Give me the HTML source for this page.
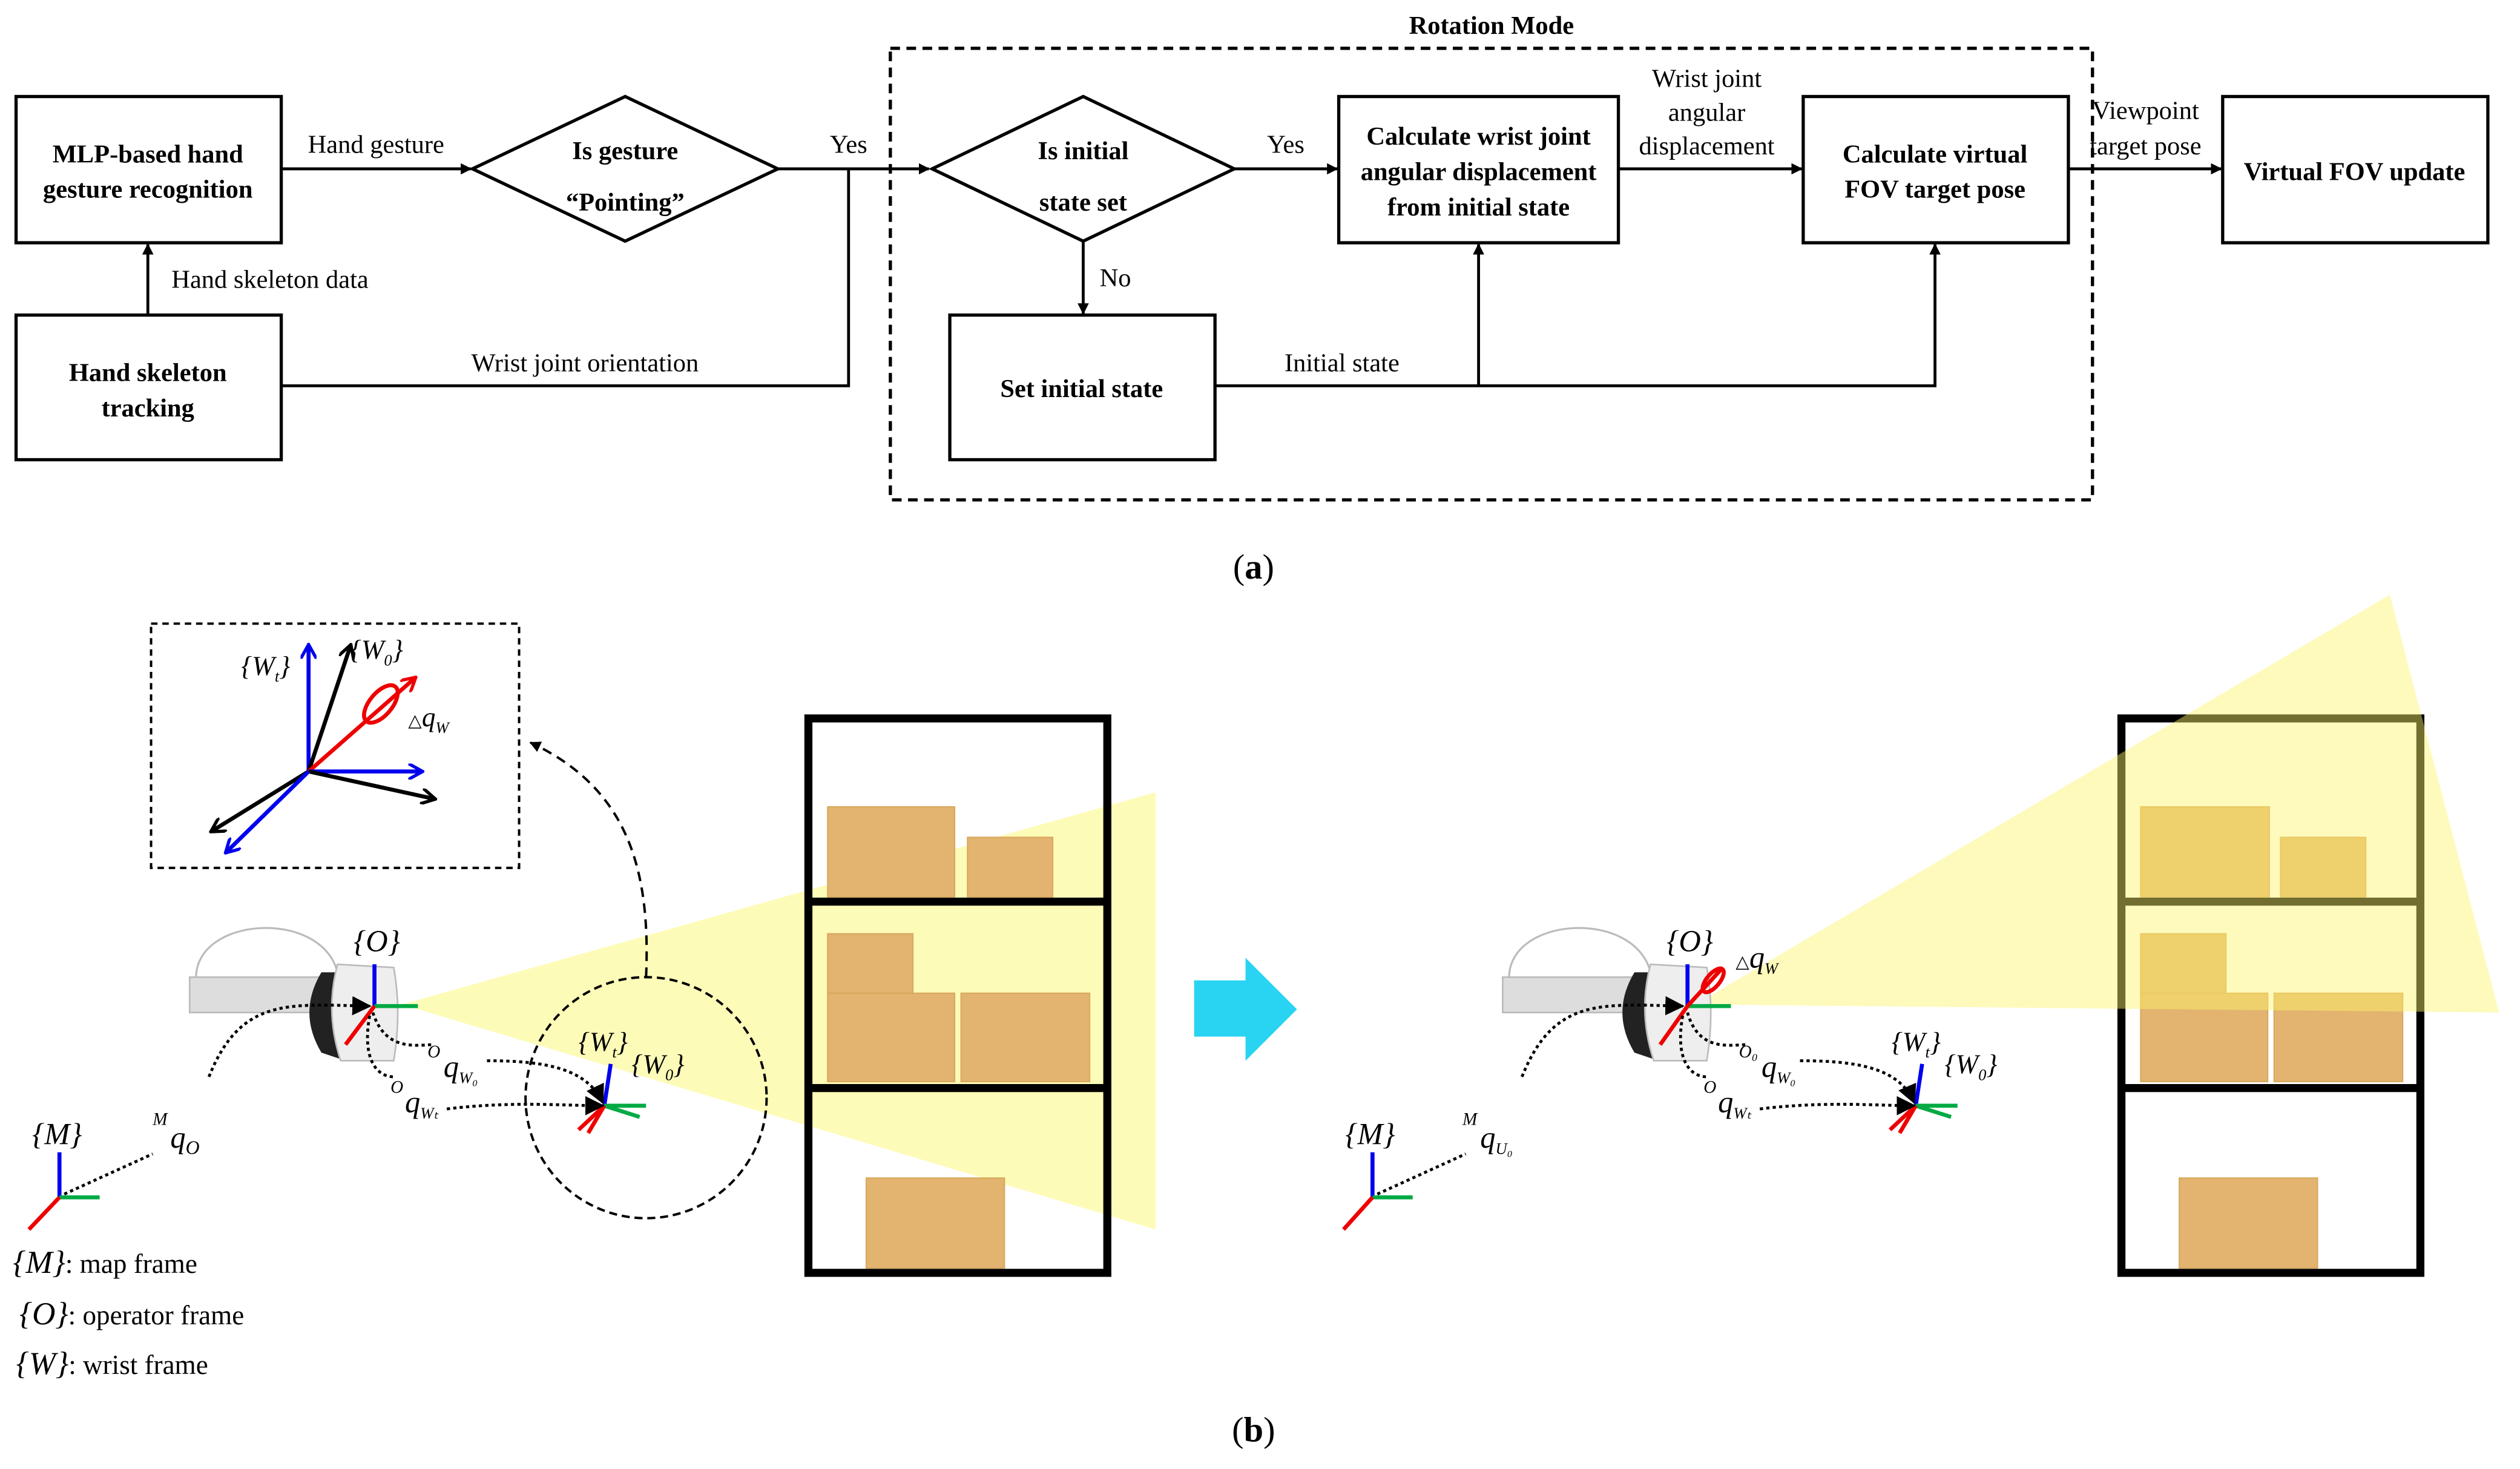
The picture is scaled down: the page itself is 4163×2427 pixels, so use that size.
<!DOCTYPE html>
<html><head><meta charset="utf-8"><style>html,body{margin:0;padding:0;background:#fff}svg{display:block}svg text{font-family:"Liberation Serif","Times New Roman",serif}</style></head>
<body>
<svg width="4163" height="2427" viewBox="0 0 1568 914" xmlns="http://www.w3.org/2000/svg" style="font-family:'Liberation Serif',serif">
<defs>
<marker id="a" viewBox="0 0 10 10" refX="9" refY="5" markerWidth="7" markerHeight="7" orient="auto-start-reverse" markerUnits="userSpaceOnUse"><path d="M0,0L10,5L0,10z" fill="#000"/></marker>
<marker id="b" viewBox="0 0 10 10" refX="9" refY="5" markerWidth="12" markerHeight="12" orient="auto" markerUnits="userSpaceOnUse"><path d="M0,0L10,5L0,10z" fill="#000"/></marker>
<marker id="ob" viewBox="0 0 10 10" refX="8" refY="5" markerWidth="10" markerHeight="10" orient="auto" markerUnits="userSpaceOnUse"><path d="M0,0L9,5L0,10" fill="none" stroke="#000" stroke-width="2"/></marker>
<marker id="obl" viewBox="0 0 10 10" refX="8" refY="5" markerWidth="10" markerHeight="10" orient="auto" markerUnits="userSpaceOnUse"><path d="M0,0L9,5L0,10" fill="none" stroke="#0000ee" stroke-width="2"/></marker>
<marker id="orr" viewBox="0 0 10 10" refX="8" refY="5" markerWidth="10" markerHeight="10" orient="auto" markerUnits="userSpaceOnUse"><path d="M0,0L9,5L0,10" fill="none" stroke="#e00" stroke-width="2"/></marker>
</defs>
<g fill="none" stroke="#000" stroke-width="2">
<rect x="10" y="60" width="165" height="91"/>
<rect x="10" y="196" width="165" height="90"/>
<polygon points="294,105 389,60 484,105 389,150"/>
<rect x="554" y="30" width="748" height="281" stroke-dasharray="6,4"/>
<polygon points="580,105 674,60 768,105 674,150"/>
<rect x="833" y="60" width="174" height="91"/>
<rect x="1122" y="60" width="165" height="91"/>
<rect x="1383" y="60" width="165" height="91"/>
<rect x="591" y="196" width="165" height="90"/>
<g stroke-width="1.8">
<line x1="175" y1="105" x2="293" y2="105" marker-end="url(#a)"/>
<line x1="484" y1="105" x2="578" y2="105" marker-end="url(#a)"/>
<polyline points="528,105 528,240 175,240"/>
<line x1="92" y1="196" x2="92" y2="152" marker-end="url(#a)"/>
<line x1="768" y1="105" x2="832" y2="105" marker-end="url(#a)"/>
<line x1="674" y1="150" x2="674" y2="195" marker-end="url(#a)"/>
<line x1="1007" y1="105" x2="1121" y2="105" marker-end="url(#a)"/>
<line x1="1287" y1="105" x2="1382" y2="105" marker-end="url(#a)"/>
<polyline points="756,240 1204,240 1204,152" marker-end="url(#a)"/>
<line x1="920" y1="240" x2="920" y2="152" marker-end="url(#a)"/>
</g></g>
<g font-size="16" text-anchor="middle" font-weight="bold">
<text x="92" y="101">MLP-based hand</text><text x="92" y="123">gesture recognition</text>
<text x="92" y="237">Hand skeleton</text><text x="92" y="259">tracking</text>
<text x="389" y="99">Is gesture</text><text x="389" y="131">“Pointing”</text>
<text x="674" y="99">Is initial</text><text x="674" y="131">state set</text>
<text x="920" y="90">Calculate wrist joint</text><text x="920" y="112">angular displacement</text><text x="920" y="134">from initial state</text>
<text x="1204" y="101">Calculate virtual</text><text x="1204" y="123">FOV target pose</text>
<text x="1465" y="112">Virtual FOV update</text>
<text x="673" y="247">Set initial state</text>
<text x="928" y="21">Rotation Mode</text>
</g>
<g font-size="16" text-anchor="middle">
<text x="234" y="95">Hand gesture</text>
<text x="528" y="95">Yes</text>
<text x="168" y="179">Hand skeleton data</text>
<text x="364" y="231">Wrist joint orientation</text>
<text x="800" y="95">Yes</text>
<text x="694" y="178">No</text>
<text x="1062" y="54">Wrist joint</text><text x="1062" y="75">angular</text><text x="1062" y="96">displacement</text>
<text x="1335" y="74">Viewpoint</text><text x="1335" y="96">target pose</text>
<text x="835" y="231">Initial state</text>
<text x="780" y="360" font-size="22">(<tspan font-weight="bold">a</tspan>)</text>
<text x="780" y="897" font-size="22">(<tspan font-weight="bold">b</tspan>)</text>
</g>

<!-- LEFT PANEL -->
<polygon points="250,625 719,493 719,765" fill="#fdfbb8"/>
<g fill="#e2b46f" stroke="#d9a85e" stroke-width="0.8">
<rect x="515" y="502" width="79" height="56"/><rect x="602" y="521" width="53" height="37"/>
<rect x="515" y="581" width="53" height="37"/><rect x="515" y="618" width="79" height="55"/><rect x="598" y="618" width="80" height="55"/>
<rect x="539" y="733" width="86" height="56"/>
</g>
<g fill="none" stroke="#000" stroke-width="5">
<rect x="503" y="447" width="186" height="345"/><line x1="503" y1="561" x2="689" y2="561"/><line x1="503" y1="677" x2="689" y2="677"/>
</g>
<rect x="94" y="388" width="229" height="152" fill="none" stroke="#000" stroke-width="1.5" stroke-dasharray="4,3"/>
<g stroke-width="2.5">
<line x1="192" y1="480" x2="192" y2="402" stroke="#0000ee" marker-end="url(#obl)"/>
<line x1="192" y1="480" x2="218" y2="402" stroke="#000" marker-end="url(#ob)"/>
<line x1="192" y1="480" x2="258" y2="422" stroke="#e00" marker-end="url(#orr)"/>
<line x1="192" y1="480" x2="262" y2="480" stroke="#0000ee" marker-end="url(#obl)"/>
<line x1="192" y1="480" x2="270" y2="497" stroke="#000" marker-end="url(#ob)"/>
<line x1="192" y1="480" x2="132" y2="517" stroke="#000" marker-end="url(#ob)"/>
<line x1="192" y1="480" x2="141" y2="530" stroke="#0000ee" marker-end="url(#obl)"/>
<ellipse cx="237" cy="438" rx="7" ry="14" fill="none" stroke="#e00" transform="rotate(40 237 438)"/>
</g>
<g font-style="italic" font-size="17">
<text x="150" y="420">{W<tspan font-size="10" dy="4">t</tspan><tspan dy="-4">}</tspan></text>
<text x="218" y="410">{W<tspan font-size="10" dy="4">0</tspan><tspan dy="-4">}</tspan></text>
<text x="254" y="452"><tspan font-style="normal" font-size="11">△</tspan>q<tspan font-size="10" dy="4">W</tspan></text>
</g>
<path d="M402,608 C405,540 390,490 330,462" fill="none" stroke="#000" stroke-width="1.5" stroke-dasharray="6,4" marker-end="url(#a)"/>
<circle cx="402" cy="683" r="75" fill="none" stroke="#000" stroke-width="1.5" stroke-dasharray="5,3"/>
<g id="hs">
<path d="M122,610 C120,570 200,565 210,605" fill="none" stroke="#bbb" stroke-width="1.2"/>
<rect x="118" y="608" width="95" height="22" fill="#ddd" stroke="#bbb"/>
<path d="M200,605 Q185,630 200,655 L215,660 L215,605z" fill="#222"/>
<path d="M210,600 L245,602 Q250,630 245,660 L212,660 Q202,630 210,600z" fill="#eee" stroke="#bbb"/>
</g>
<g stroke-width="2.5">
<line x1="233" y1="626" x2="233" y2="600" stroke="#0000ee"/><line x1="233" y1="626" x2="260" y2="626" stroke="#00aa44"/><line x1="233" y1="626" x2="215" y2="650" stroke="#e00"/>
<line x1="37" y1="745" x2="37" y2="717" stroke="#0000ee"/><line x1="37" y1="745" x2="62" y2="745" stroke="#00aa44"/><line x1="37" y1="745" x2="18" y2="765" stroke="#e00"/>
<line x1="376" y1="688" x2="380" y2="662" stroke="#0000ee"/><line x1="376" y1="688" x2="402" y2="688" stroke="#00aa44"/><line x1="376" y1="688" x2="398" y2="695" stroke="#00aa44"/><line x1="376" y1="688" x2="360" y2="703" stroke="#e00"/><line x1="376" y1="688" x2="366" y2="705" stroke="#e00"/>
</g>
<g fill="none" stroke="#000" stroke-width="1.8" stroke-dasharray="2,2">
<path d="M40,743 L95,718"/>
<path d="M130,670 C150,620 180,625 230,626" marker-end="url(#b)"/>
<path d="M232,630 C240,655 260,650 270,650"/>
<path d="M303,660 C340,660 365,665 375,686" marker-end="url(#b)"/>
<path d="M230,632 C225,660 235,670 245,670"/>
<path d="M278,690 C320,685 350,688 375,688" marker-end="url(#b)"/>
</g>
<g font-style="italic" font-size="19">
<text x="220" y="592">{O}</text>
<text x="20" y="712">{M}</text>
<text x="95" y="700" font-size="11">M</text><text x="106" y="714">q<tspan font-size="12" dy="4">O</tspan></text>
<text x="266" y="658" font-size="11">O</text><text x="276" y="670">q<tspan font-size="10" dy="4">W₀</tspan></text>
<text x="243" y="680" font-size="11">O</text><text x="252" y="692">q<tspan font-size="10" dy="4">Wₜ</tspan></text>
<text x="360" y="654" font-size="17">{W<tspan font-size="10" dy="4">t</tspan><tspan dy="-4">}</tspan></text>
<text x="393" y="668" font-size="17">{W<tspan font-size="10" dy="4">0</tspan><tspan dy="-4">}</tspan></text>
</g>
<g font-size="17">
<text x="8" y="792"><tspan font-style="italic" font-size="20">{M}</tspan>: map frame</text>
<text x="12" y="824"><tspan font-style="italic" font-size="20">{O}</tspan>: operator frame</text>
<text x="10" y="855"><tspan font-style="italic" font-size="20">{W}</tspan>: wrist frame</text>
</g>
<polygon points="743,610 775,610 775,596 807,628 775,660 775,645 743,645" fill="#29d3f2"/>

<!-- RIGHT PANEL -->
<g fill="#e2b46f" stroke="#d9a85e" stroke-width="0.8">
<rect x="1332" y="502" width="80" height="56"/><rect x="1419" y="521" width="53" height="37"/>
<rect x="1332" y="581" width="53" height="37"/><rect x="1332" y="618" width="79" height="55"/><rect x="1415" y="618" width="80" height="55"/>
<rect x="1356" y="733" width="86" height="56"/>
</g>
<g fill="none" stroke="#000" stroke-width="5">
<rect x="1320" y="447" width="186" height="345"/><line x1="1320" y1="561" x2="1506" y2="561"/><line x1="1320" y1="677" x2="1506" y2="677"/>
</g>
<polygon points="1055,625 1487,370 1555,630" fill="#fdf46a" fill-opacity="0.45"/>
<use href="#hs" transform="translate(817,0)"/>
<g stroke-width="2.5">
<line x1="1050" y1="626" x2="1050" y2="600" stroke="#0000ee"/><line x1="1050" y1="626" x2="1077" y2="626" stroke="#00aa44"/><line x1="1050" y1="626" x2="1033" y2="650" stroke="#e00"/><line x1="1050" y1="626" x2="1072" y2="602" stroke="#e00"/>
<ellipse cx="1066" cy="610" rx="4" ry="9" fill="none" stroke="#e00" transform="rotate(40 1066 610)"/>
<line x1="854" y1="745" x2="854" y2="717" stroke="#0000ee"/><line x1="854" y1="745" x2="879" y2="745" stroke="#00aa44"/><line x1="854" y1="745" x2="836" y2="765" stroke="#e00"/>
<line x1="1192" y1="688" x2="1196" y2="662" stroke="#0000ee"/><line x1="1192" y1="688" x2="1218" y2="688" stroke="#00aa44"/><line x1="1192" y1="688" x2="1214" y2="695" stroke="#00aa44"/><line x1="1192" y1="688" x2="1176" y2="703" stroke="#e00"/><line x1="1192" y1="688" x2="1182" y2="705" stroke="#e00"/>
</g>
<g fill="none" stroke="#000" stroke-width="1.8" stroke-dasharray="2,2">
<path d="M857,743 L912,718"/>
<path d="M947,670 C967,620 997,625 1047,626" marker-end="url(#b)"/>
<path d="M1050,630 C1057,655 1077,650 1087,650"/>
<path d="M1120,660 C1157,660 1182,665 1191,686" marker-end="url(#b)"/>
<path d="M1047,632 C1042,660 1052,670 1062,670"/>
<path d="M1095,690 C1137,685 1167,688 1191,688" marker-end="url(#b)"/>
</g>
<g font-style="italic" font-size="19">
<text x="1037" y="592">{O}</text>
<text x="837" y="712">{M}</text>
<text x="1080" y="602"><tspan font-style="normal" font-size="11">△</tspan>q<tspan font-size="10" dy="4">W</tspan></text>
<text x="910" y="700" font-size="11">M</text><text x="921" y="714">q<tspan font-size="10" dy="4">U₀</tspan></text>
<text x="1082" y="658" font-size="11">O₀</text><text x="1096" y="670">q<tspan font-size="10" dy="4">W₀</tspan></text>
<text x="1060" y="680" font-size="11">O</text><text x="1069" y="692">q<tspan font-size="10" dy="4">Wₜ</tspan></text>
<text x="1177" y="654" font-size="17">{W<tspan font-size="10" dy="4">t</tspan><tspan dy="-4">}</tspan></text>
<text x="1210" y="668" font-size="17">{W<tspan font-size="10" dy="4">0</tspan><tspan dy="-4">}</tspan></text>
</g>
</svg>
</body></html>
